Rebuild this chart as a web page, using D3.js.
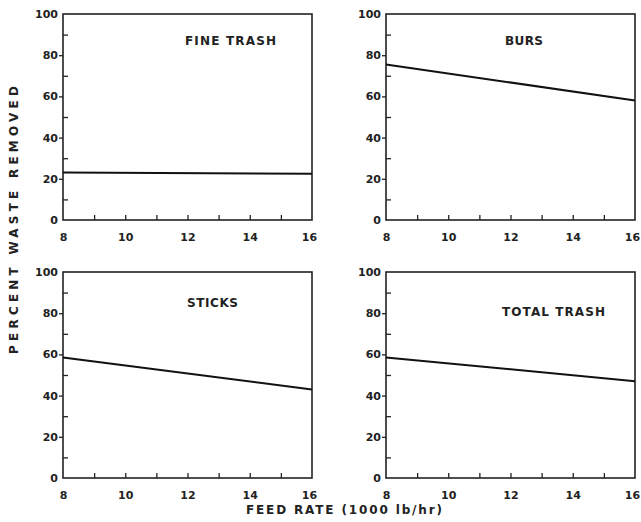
<!DOCTYPE html>
<html>
<head>
<meta charset="utf-8">
<script src="https://cdn.jsdelivr.net/npm/d3@7"></script>
<style>
  body { margin: 0; background: #fff; }
  svg text { font-family: "DejaVu Sans", sans-serif; font-weight: bold; fill: #222; }
</style>
</head>
<body>
<script>
// feed rate (1000 lb/hr) at the two ends of each fitted line
const feedRate = [8, 16];

const panelTitles = ["FINE TRASH", "BURS", "STICKS", "TOTAL TRASH"];

// percent waste removed
const fineTrash = [23, 22.5];
const burs = [75.5, 58];
const sticks = [58.5, 43];
const totalTrash = [58.5, 47];

const xMajor = [8, 10, 12, 14, 16];
const xMinor = [9, 10, 11, 12, 13, 14, 15];
const yMajor = [0, 20, 40, 60, 80, 100];
const yMinor = [10, 30, 50, 70, 90];

const width = 641, height = 522;
const pw = 249, ph = 206;

const panels = [
    {title: panelTitles[0], values: fineTrash,  left: 63,  top: 14,  tx: 122, ty: 31, tl: 91},
    {title: panelTitles[1], values: burs,       left: 386, top: 14,  tx: 119, ty: 31, tl: 38},
    {title: panelTitles[2], values: sticks,     left: 63,  top: 272, tx: 124, ty: 35, tl: 51},
    {title: panelTitles[3], values: totalTrash, left: 386, top: 272, tx: 116, ty: 44, tl: 103}
];

const x = d3.scaleLinear().domain([8, 16]).range([0, pw]);
const y = d3.scaleLinear().domain([0, 100]).range([ph, 0]);

const svg = d3.select("body").append("svg")
    .attr("width", width)
    .attr("height", height);

const line = d3.line()
    .x(d => x(d[0]))
    .y(d => y(d[1]));

panels.forEach(p => {
    const g = svg.append("g")
        .attr("transform", `translate(${p.left},${p.top})`);

    // y axis: labelled ticks outside, odd tens inside
    g.append("g")
        .call(d3.axisLeft(y).tickValues(yMajor).tickSize(4).tickPadding(1))
        .call(g => g.select(".domain").remove())
        .call(g => g.selectAll(".tick line")
            .attr("stroke", "#222")
            .attr("stroke-width", 1.3)
            .filter(d => d === 0 || d === 100).remove())
        .call(g => g.selectAll("text")
            .attr("font-size", 11)
            .attr("font-family", null)
            .attr("fill", null));

    g.append("g")
        .call(d3.axisRight(y).tickValues(yMinor).tickSize(5).tickFormat(""))
        .call(g => g.select(".domain").remove())
        .call(g => g.selectAll(".tick line").attr("stroke", "#222").attr("stroke-width", 1.3));

    // x axis: labels below, unit ticks pointing up
    g.append("g")
        .attr("transform", `translate(0,${ph})`)
        .call(d3.axisBottom(x).tickValues(xMajor).tickSize(0).tickPadding(13))
        .call(g => g.select(".domain").remove())
        .call(g => g.selectAll("text")
            .attr("font-size", 11)
            .attr("font-family", null)
            .attr("fill", null)
            .attr("dx", d => d === 16 ? -3 : 0));

    g.append("g")
        .attr("transform", `translate(0,${ph})`)
        .call(d3.axisTop(x).tickValues(xMinor).tickSize(5).tickFormat(""))
        .call(g => g.select(".domain").remove())
        .call(g => g.selectAll(".tick line").attr("stroke", "#222").attr("stroke-width", 1.3));

    // frame
    g.append("rect")
        .attr("x", 0)
        .attr("y", 0)
        .attr("width", pw)
        .attr("height", ph)
        .attr("fill", "none")
        .attr("stroke", "#222")
        .attr("stroke-width", 1.6);

    // fitted line
    g.append("path")
        .datum(feedRate.map((f, i) => [f, p.values[i]]))
        .attr("d", line)
        .attr("fill", "none")
        .attr("stroke", "#111")
        .attr("stroke-width", 2);

    g.append("text")
        .attr("x", p.tx)
        .attr("y", p.ty)
        .attr("font-size", 12)
        .attr("textLength", p.tl)
        .attr("lengthAdjust", "spacing")
        .text(p.title.replace(" ", "  "));
});

svg.append("text")
    .attr("transform", "translate(18,220) rotate(-90)")
    .attr("text-anchor", "middle")
    .attr("font-size", 12)
    .attr("textLength", 268)
    .attr("lengthAdjust", "spacing")
    .text("PERCENT   WASTE   REMOVED");

svg.append("text")
    .attr("x", 246)
    .attr("y", 514)
    .attr("font-size", 12)
    .attr("textLength", 196)
    .attr("lengthAdjust", "spacing")
    .text("FEED   RATE   (1000 lb/hr)");
</script>
</body>
</html>
